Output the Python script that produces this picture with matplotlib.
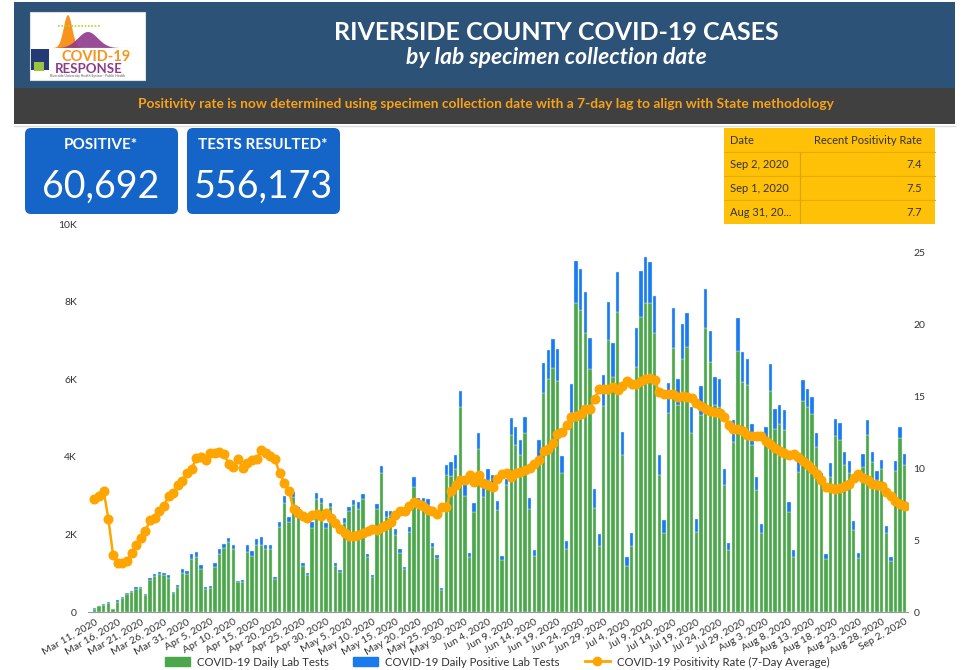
import matplotlib
matplotlib.use("Agg")
import matplotlib.pyplot as plt
from matplotlib.patches import Rectangle, FancyBboxPatch, Polygon
from matplotlib.lines import Line2D
import numpy as np
import pandas as pd

plt.rcParams['font.family'] = ['Lato', 'DejaVu Sans']

# daily values, Mar 11 - Sep 2, 2020
start_date = '2020-03-11'
end_date = '2020-09-02'

total_tests = [
    94, 163, 198, 249, 86, 309, 395, 498, 541, 636, 636, 472, 876, 979, 1031, 1005, 945, 524, 696, 1100,
    1065, 1486, 1555, 1211, 636, 670, 1254, 1615, 1761, 1916, 1727, 807, 825, 1727, 1572, 1873, 1924, 1735, 1735, 911,
    2311, 2989, 2457, 3084, 2714, 1254, 1014, 2328, 3075, 2929, 2285, 2800, 1254, 1082, 2414, 2714, 2886, 2826, 3032, 1486,
    953, 2775, 3762, 2603, 2600, 2130, 1615, 1168, 2199, 3470, 2929, 2929, 2903, 1770, 1469, 610, 3788, 3857, 4046, 5704,
    3300, 1529, 2800, 4621, 3187, 3676, 3530, 2869, 1452, 3419, 4991, 4776, 4432, 5017, 2929, 1598, 4432, 6408, 6752, 7027,
    6769, 4020, 1838, 5867, 9045, 8831, 8238, 7070, 3161, 2010, 6107, 7980, 6924, 8770, 4630, 1409, 2027, 7310, 8796, 9140,
    9028, 8143, 4046, 2371, 5910, 7825, 5996, 7422, 7714, 5291, 2388, 5824, 8324, 7250, 6048, 5996, 3685, 1770, 4948, 7568,
    6709, 6520, 4836, 3488, 2259, 4776, 6382, 5223, 5334, 5206, 2843, 1598, 3874, 5979, 5747, 5549, 4604, 3591, 1495, 3831,
    4965, 4862, 4132, 3891, 2345, 1512, 4072, 4948, 4132, 3634, 3917, 2216, 1426, 3883, 4776, 4072,
]

positive_tests = [
    5, 10, 10, 12, 5, 40, 30, 30, 26, 43, 26, 26, 52, 43, 52, 52, 77, 43, 60, 103,
    86, 129, 146, 103, 52, 60, 103, 120, 103, 103, 112, 43, 52, 189, 129, 146, 198, 120, 120, 52,
    129, 189, 129, 112, 103, 69, 60, 172, 172, 112, 129, 86, 60, 60, 129, 112, 129, 172, 129, 77,
    60, 129, 189, 146, 129, 146, 103, 60, 146, 240, 86, 86, 146, 103, 86, 43, 258, 344, 369, 430,
    300, 103, 215, 430, 232, 275, 198, 240, 112, 146, 430, 472, 387, 395, 283, 155, 430, 773, 756, 747,
    807, 430, 223, 747, 1074, 1048, 1057, 816, 472, 309, 790, 971, 859, 1031, 584, 223, 326, 988, 1185, 1185,
    1074, 962, 515, 344, 790, 1031, 661, 911, 876, 670, 318, 747, 996, 799, 713, 704, 412, 172, 558, 842,
    773, 670, 533, 344, 232, 450, 679, 515, 490, 515, 258, 172, 258, 533, 455, 447, 344, 189, 129, 361,
    421, 430, 344, 301, 232, 112, 326, 395, 275, 232, 240, 172, 112, 249, 283, 283,
]

positivity_rate = [
    7.88, 8.06, 8.41, 6.48, 4.0, 3.38, 3.42, 3.54, 4.12, 4.63, 5.16, 5.67, 6.37, 6.55, 7.02, 7.41, 8.06, 8.29, 8.81, 9.11,
    9.64, 9.97, 10.73, 10.8, 10.57, 11.03, 11.08, 11.13, 11.01, 10.27, 10.08, 10.66, 10.03, 10.38, 10.57, 10.62, 11.26, 11.08, 10.85, 10.62,
    9.64, 8.99, 8.45, 7.15, 6.9, 6.67, 6.55, 6.74, 6.79, 6.67, 6.86, 6.55, 6.16, 5.79, 5.51, 5.28, 5.32, 5.39, 5.51, 5.63,
    5.79, 5.74, 5.93, 6.02, 6.25, 6.74, 7.06, 7.06, 7.37, 7.67, 7.55, 7.41, 7.13, 7.02, 6.79, 7.32, 7.32, 8.41, 8.87, 9.22,
    9.22, 9.5, 9.06, 9.5, 8.99, 8.81, 8.71, 9.27, 9.57, 9.64, 9.39, 9.64, 9.73, 9.85, 9.99, 10.27, 10.61, 11.19, 11.36, 11.73,
    12.4, 12.52, 12.98, 13.56, 13.63, 13.75, 14.1, 14.1, 14.84, 15.49, 15.49, 15.53, 15.67, 15.44, 15.72, 16.07, 15.9, 15.9, 16.07, 16.23,
    16.3, 16.11, 15.3, 15.14, 15.2, 15.2, 14.98, 15.02, 14.95, 14.86, 14.51, 14.33, 14.1, 13.98, 13.91, 13.86, 13.56, 12.98, 12.7, 12.7,
    12.59, 12.35, 12.24, 12.24, 12.28, 11.89, 11.66, 11.43, 11.19, 11.03, 10.96, 11.0, 10.8, 10.5, 10.2, 9.92, 9.57, 9.22, 8.71, 8.64,
    8.57, 8.64, 8.76, 8.94, 9.34, 9.57, 9.34, 9.17, 8.94, 8.87, 8.76, 8.34, 8.06, 7.7, 7.5, 7.4,
]

scorecards = [('POSITIVE*', '60,692'), ('TESTS RESULTED*', '556,173')]
table_dates = ['Sep 2, 2020', 'Sep 1, 2020', 'Aug 31, 20...']
table_rates = ['7.4', '7.5', '7.7']

left_ticks = [0, 2000, 4000, 6000, 8000, 10000]
left_labels = ['0', '2K', '4K', '6K', '8K', '10K']
right_ticks = [0, 5, 10, 15, 20, 25]

dates = pd.date_range(start_date, end_date)
day_labels = [f"{d:%b} {d.day}, {d.year}" for d in dates]
x = np.arange(len(dates))
negative_tests = np.array(total_tests) - np.array(positive_tests)

GREEN = '#4ca64c'
BLUE = '#1a7af0'
ORANGE = '#ffa500'

W, H = 963, 670
fig = plt.figure(figsize=(W / 100, H / 100), dpi=100)
fig.patch.set_facecolor('white')

# background axes in pixel coordinates for the dashboard decoration
bg = fig.add_axes([0, 0, 1, 1])
bg.set_xlim(0, W)
bg.set_ylim(H, 0)
bg.axis('off')

# header
bg.add_patch(Rectangle((14, 2), 941, 86, color='#2c5278', lw=0))
bg.add_patch(Rectangle((14, 88), 941, 36, color='#404040', lw=0))
bg.text(556, 32, 'RIVERSIDE COUNTY COVID-19 CASES', color='white', fontsize=18,
        fontweight='bold', ha='center', va='center')
bg.text(556, 58, 'by lab specimen collection date', color='white', fontsize=16.5,
        fontweight='bold', style='italic', ha='center', va='center')
bg.text(486, 104, 'Positivity rate is now determined using specimen collection date with a 7-day lag to align with State methodology',
        color='#f7a21b', fontsize=9.9, fontweight='bold', ha='center', va='center')

# logo (simplified)
bg.add_patch(Rectangle((30, 12), 115, 68, facecolor='white', edgecolor='#dddddd', lw=0.8))
lx = np.linspace(50, 110, 80)
bg.add_patch(Polygon(np.column_stack([lx, 48 - 33 * np.exp(-((lx - 68) / 6) ** 2)]), closed=True,
                     facecolor='#f7941d', lw=0))
px = np.linspace(58, 140, 80)
bg.add_patch(Polygon(np.column_stack([px, 48 - 16 * np.exp(-((px - 88) / 14) ** 2)]), closed=True,
                     facecolor='#8e3a8c', lw=0, alpha=0.9))
bg.plot([58, 100], [26, 26], color='#b5d334', lw=1.2, ls=(0, (1, 1)))
bg.add_patch(Rectangle((31, 49), 18, 21, color='#253a74', lw=0))
bg.add_patch(Rectangle((34, 62), 10, 9, color='#9bc53d', lw=0))
bg.text(61, 57, 'COVID-19', color='#f7941d', fontsize=10.5, fontweight='bold', va='center')
bg.text(55, 69, 'RESPONSE', color='#8e3a8c', fontsize=9.5, fontweight='bold', va='center')
bg.text(87, 76.5, 'Riverside University Health System - Public Health', color='#555555', fontsize=2.4,
        ha='center', va='center')

# divider under header
bg.plot([14, 955], [126, 126], color='#dddddd', lw=1)

# scorecards
for i, (title, value) in enumerate(scorecards):
    x0 = 25 + i * 162
    bg.add_patch(FancyBboxPatch((x0 + 5, 133), 143, 76, boxstyle='round,pad=5,rounding_size=6',
                                facecolor='#1565c8', edgecolor='none'))
    bg.text(x0 + 76, 145, title, color='white', fontsize=11, fontweight='bold', ha='center', va='center')
    bg.text(x0 + 76, 187, value, color='white', fontsize=27, ha='center', va='center')

# positivity table
bg.add_patch(Rectangle((724, 128), 211, 96, color='#ffc107', lw=0))
for yy in [152, 176, 200]:
    bg.plot([724, 935], [yy, yy], color='#e6ad00', lw=0.8)
bg.plot([800, 800], [152, 224], color='#d9a300', lw=0.8)
bg.text(730, 141, 'Date', color='#333333', fontsize=8, va='center')
bg.text(922, 141, 'Recent Positivity Rate', color='#333333', fontsize=8, va='center', ha='right')
for i, (d, r) in enumerate(zip(table_dates, table_rates)):
    bg.text(730, 164 + i * 24.5, d, color='#333333', fontsize=8, va='center')
    bg.text(922, 164 + i * 24.5, r, color='#333333', fontsize=8, va='center', ha='right')

# main chart
ax = fig.add_axes([88 / W, (H - 612) / H, 820 / W, 388 / H])
ax.bar(x, negative_tests, width=0.72, color=GREEN, edgecolor='#cfe8cf', linewidth=0.3)
ax.bar(x, positive_tests, bottom=negative_tests, width=0.72, color=BLUE, edgecolor='#cfe0f8', linewidth=0.3)
ax.set_xlim(-1.4, 175.7)
ax.set_ylim(0, 10000)
ax.set_yticks(left_ticks)
ax.set_yticklabels(left_labels)
ax.set_xticks(x[::5])
ax.set_xticklabels(day_labels[::5], rotation=30, ha='right', rotation_mode='anchor')
ax.tick_params(axis='both', length=0, labelsize=7.5, labelcolor='#333333')
ax.tick_params(axis='x', pad=4)
ax.tick_params(axis='y', pad=8)
for s in ['top', 'left', 'right']:
    ax.spines[s].set_visible(False)
ax.spines['bottom'].set_color('#999999')

ax2 = ax.twinx()
ax2.plot(x, positivity_rate, color=ORANGE, lw=1.8, marker='o', markersize=6.2)
ax2.set_ylim(0, 27.0)
ax2.set_yticks(right_ticks)
ax2.tick_params(axis='y', length=0, labelsize=7.5, labelcolor='#333333', pad=4)
for s in ['top', 'left', 'right', 'bottom']:
    ax2.spines[s].set_visible(False)

handles = [
    Rectangle((0, 0), 1, 1, color=GREEN),
    Rectangle((0, 0), 1, 1, color=BLUE),
    Line2D([0], [0], color=ORANGE, lw=2, marker='o', markersize=6),
]
labels = ['COVID-19 Daily Lab Tests', 'COVID-19 Daily Positive Lab Tests', 'COVID-19 Positivity Rate (7-Day Average)']
fig.legend(handles, labels, loc='center', bbox_to_anchor=(497 / W, (H - 662) / H), ncol=3, frameon=False,
           fontsize=8.2, handlelength=2.2, handleheight=0.9, columnspacing=2.2, handletextpad=0.6,
           labelcolor='#333333')

fig.savefig('out.png', dpi=100)
